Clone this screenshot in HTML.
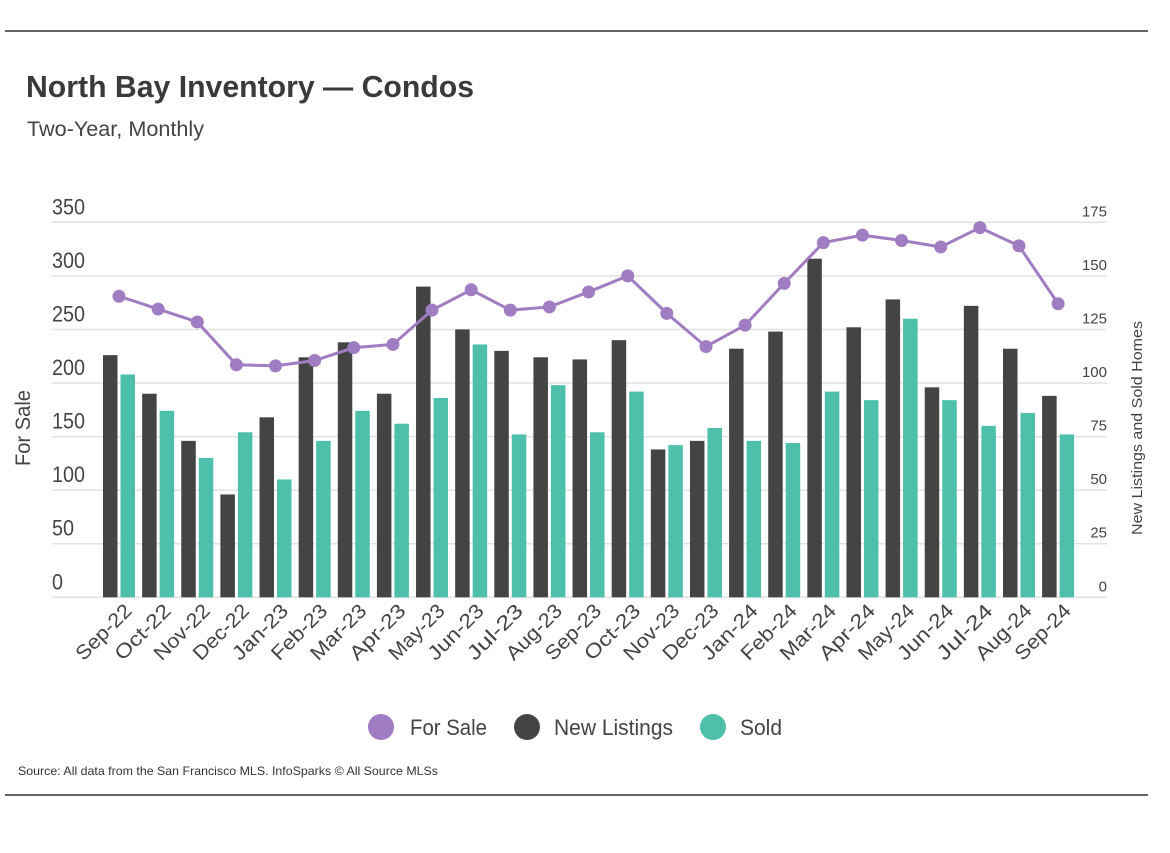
<!DOCTYPE html>
<html><head><meta charset="utf-8"><style>
body{margin:0;background:#fff;}
svg text{font-family:"Liberation Sans",sans-serif;}
</style></head><body>
<svg width="1170" height="848" viewBox="0 0 1170 848" xmlns="http://www.w3.org/2000/svg" id="chart">
<line x1="5" y1="31" x2="1148" y2="31" stroke="#333" stroke-width="1.5"/>
<line x1="5" y1="795" x2="1148" y2="795" stroke="#333" stroke-width="1.5"/>
<text x="26" y="97" font-size="31" font-weight="bold" fill="#3a3a3a" textLength="448" lengthAdjust="spacingAndGlyphs">North Bay Inventory — Condos</text>
<text x="27" y="136" font-size="21" fill="#444" textLength="177" lengthAdjust="spacingAndGlyphs">Two-Year, Monthly</text>
<g id="grid"></g><g id="bars"></g><g id="line"></g><g id="axes"></g>
<text transform="translate(30,428) rotate(-90)" text-anchor="middle" font-size="21" fill="#444" textLength="76" lengthAdjust="spacingAndGlyphs">For Sale</text>
<text transform="translate(1142,428) rotate(-90)" text-anchor="middle" font-size="15" fill="#444" textLength="214" lengthAdjust="spacingAndGlyphs">New Listings and Sold Homes</text>
<g>
<circle cx="381" cy="727" r="13" fill="#a07cc2"/>
<text x="410" y="735" font-size="22" fill="#444" textLength="77" lengthAdjust="spacingAndGlyphs">For Sale</text>
<circle cx="527" cy="727" r="13" fill="#444"/>
<text x="554" y="735" font-size="22" fill="#444" textLength="119" lengthAdjust="spacingAndGlyphs">New Listings</text>
<circle cx="713" cy="727" r="13" fill="#4dbfaa"/>
<text x="740" y="735" font-size="22" fill="#444" textLength="42" lengthAdjust="spacingAndGlyphs">Sold</text>
</g>
<text x="18" y="775" font-size="12" fill="#333" textLength="420" lengthAdjust="spacingAndGlyphs">Source:  All data from the San Francisco MLS. InfoSparks © All Source MLSs</text>
</svg>
<script>
const categories=["Sep-22","Oct-22","Nov-22","Dec-22","Jan-23","Feb-23","Mar-23","Apr-23","May-23","Jun-23","Jul-23","Aug-23","Sep-23","Oct-23","Nov-23","Dec-23","Jan-24","Feb-24","Mar-24","Apr-24","May-24","Jun-24","Jul-24","Aug-24","Sep-24"];
const forSale=[281,269,257,217,216,221,233,236,268,287,268,271,285,300,265,234,254,293,331,338,333,327,345,328,274];
const newListings=[113,95,73,48,84,112,119,95,145,125,115,112,111,120,69,73,116,124,158,126,139,98,136,116,94];
const sold=[104,87,65,77,55,73,87,81,93,118,76,99,77,96,71,79,73,72,96,92,130,92,80,86,76];
const leftTicks=[0,50,100,150,200,250,300,350];
const rightTicks=[0,25,50,75,100,125,150,175];
const NS="http://www.w3.org/2000/svg";
const y0=597.3,pxPer=375/350;
function yL(v){return y0-v*pxPer;}
function yR(v){return y0-v*2*pxPer;}
function xG(i){return 103+i*39.13;}
function mk(tag,attrs,parent){const e=document.createElementNS(NS,tag);for(const k in attrs)e.setAttribute(k,attrs[k]);parent.appendChild(e);return e;}
const grid=document.getElementById('grid'),bars=document.getElementById('bars'),line=document.getElementById('line'),axes=document.getElementById('axes');
leftTicks.forEach((t,i)=>{
  const l=mk('line',{x1:52,x2:1107,y1:yL(t),y2:yL(t),stroke:'#e2e2e2','stroke-width':1.5},grid);
  
  
  const tx=mk('text',{x:52,y:yL(t)-8,'font-size':22,fill:'#444',textLength:String(t).length*11,lengthAdjust:'spacingAndGlyphs'},axes);
  tx.textContent=t;
  
  
});
rightTicks.forEach(t=>{
  const tx=mk('text',{x:1107,y:yR(t)-6,'font-size':15,fill:'#444','text-anchor':'end'},axes);
  tx.textContent=t;
  
  
});
categories.forEach((c,i)=>{
  const x=xG(i);
  const b=mk('rect',{x:x,y:yR(newListings[i]),width:14.5,height:y0-yR(newListings[i]),fill:'#444'},bars);
  
  
  const s=mk('rect',{x:x+17.5,y:yR(sold[i]),width:14.5,height:y0-yR(sold[i]),fill:'#4dbfaa'},bars);
  
  
  const cx=x+30;
  const tx=mk('text',{x:cx,y:612,'font-size':20,fill:'#444','text-anchor':'end',transform:`rotate(-45 ${cx} 612)`,textLength:70,lengthAdjust:'spacingAndGlyphs'},axes);
  tx.textContent=c;
  
  
});
const pts=forSale.map((v,i)=>(xG(i)+16)+','+yL(v)).join(' ');
const pl=mk('polyline',{points:pts,fill:'none',stroke:'#a07cc2','stroke-width':3},line);


forSale.forEach((v,i)=>{
  const c=mk('circle',{cx:xG(i)+16,cy:yL(v),r:6.5,fill:'#a07cc2'},line);
  
  
});
</script>
</body></html>
